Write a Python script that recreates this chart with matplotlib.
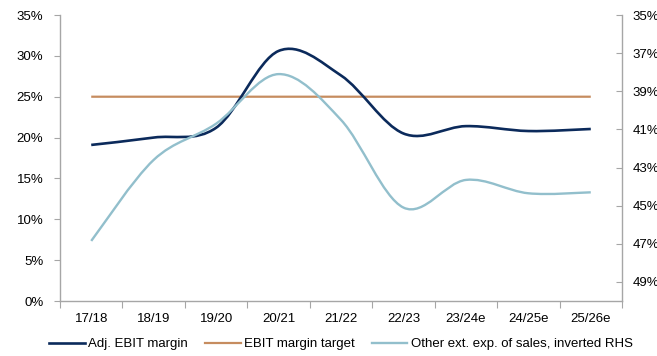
import numpy as np
import matplotlib
matplotlib.use("Agg")
import matplotlib.pyplot as plt
from matplotlib.path import Path
from matplotlib.patches import PathPatch
from matplotlib.lines import Line2D
from matplotlib.ticker import PercentFormatter

plt.rcParams["font.family"] = ["Liberation Sans", "DejaVu Sans"]

years = ["17/18", "18/19", "19/20", "20/21", "21/22", "22/23", "23/24e", "24/25e", "25/26e"]
adj_ebit_margin = [19.1, 20.0, 21.2, 30.6, 27.6, 20.5, 21.4, 20.8, 21.05]
ebit_margin_target = [25.0] * len(years)
other_ext_exp = [46.85, 42.6, 40.7, 38.1, 40.5, 45.1, 43.65, 44.35, 44.3]  # inverted RHS

NAVY = "#0b2a5b"
TAN = "#c68c5f"
LIGHT = "#92bfcc"
GREY = "#a6a6a6"
FS = 9.5


def smooth_path(x, y):
    """Bezier path through the points, same style as spreadsheet smoothed lines."""
    pts = np.column_stack([x, y]).astype(float)
    ext = np.vstack([pts[0], pts, pts[-1]])
    verts = [pts[0]]
    codes = [Path.MOVETO]
    for i in range(len(pts) - 1):
        p0, p1, p2, p3 = ext[i], ext[i + 1], ext[i + 2], ext[i + 3]
        c1 = p1 + (p2 - p0) / 6.0
        c2 = p2 - (p3 - p1) / 6.0
        verts += [c1, c2, p2]
        codes += [Path.CURVE4] * 3
    return Path(verts, codes)


fig = plt.figure(figsize=(6.57, 3.56), dpi=100)
ax = fig.add_axes([60 / 657, 55 / 356, 562 / 657, 286 / 356])
ax2 = ax.twinx()

x = np.arange(len(years))

ax.add_patch(PathPatch(smooth_path(x, ebit_margin_target), fill=False,
                       edgecolor=TAN, lw=1.6, capstyle="butt"))
ax.add_patch(PathPatch(smooth_path(x, adj_ebit_margin), fill=False,
                       edgecolor=NAVY, lw=1.9, capstyle="butt"))
ax2.add_patch(PathPatch(smooth_path(x, other_ext_exp), fill=False,
                        edgecolor=LIGHT, lw=1.7, capstyle="butt"))

ax.set_xlim(-0.5, len(years) - 0.5)
ax.set_ylim(0, 35)
ax.set_yticks(np.arange(0, 36, 5))
ax.yaxis.set_major_formatter(PercentFormatter(decimals=0))

ax2.set_ylim(50, 35)
ax2.set_yticks(np.arange(35, 50, 2))
ax2.yaxis.set_major_formatter(PercentFormatter(decimals=0))

# category labels centred, tick marks on the boundaries
ax.set_xticks(x)
ax.set_xticklabels(years)
ax.set_xticks(np.arange(-0.5, len(years)), minor=True)
ax.tick_params(axis="x", which="major", length=0, pad=9, labelsize=FS)
ax.tick_params(axis="x", which="minor", length=5, width=0.8, color=GREY, direction="out")
ax.tick_params(axis="y", length=4, width=0.8, color=GREY, direction="out", pad=8, labelsize=FS)
ax2.tick_params(axis="y", length=4, width=0.8, color=GREY, direction="in", pad=7.5, labelsize=FS)

for a in (ax, ax2):
    for side in ("top", "left", "right", "bottom"):
        a.spines[side].set_visible(False)
ax.spines["left"].set_visible(True)
ax.spines["bottom"].set_visible(True)
ax2.spines["right"].set_visible(True)
for sp in (ax.spines["left"], ax.spines["bottom"], ax2.spines["right"]):
    sp.set_color(GREY)
    sp.set_linewidth(1.0)

handles = [
    Line2D([], [], color=NAVY, lw=1.9),
    Line2D([], [], color=TAN, lw=1.6),
    Line2D([], [], color=LIGHT, lw=1.7),
]
labels = ["Adj. EBIT margin", "EBIT margin target", "Other ext. exp. of sales, inverted RHS"]
fig.legend(handles, labels, loc="center", bbox_to_anchor=(341 / 657, 1 - 344 / 356),
           ncol=3, frameon=False, fontsize=FS, handlelength=2.7,
           handletextpad=0.25, columnspacing=1.3, borderpad=0)

fig.savefig("out.png", dpi=100)
